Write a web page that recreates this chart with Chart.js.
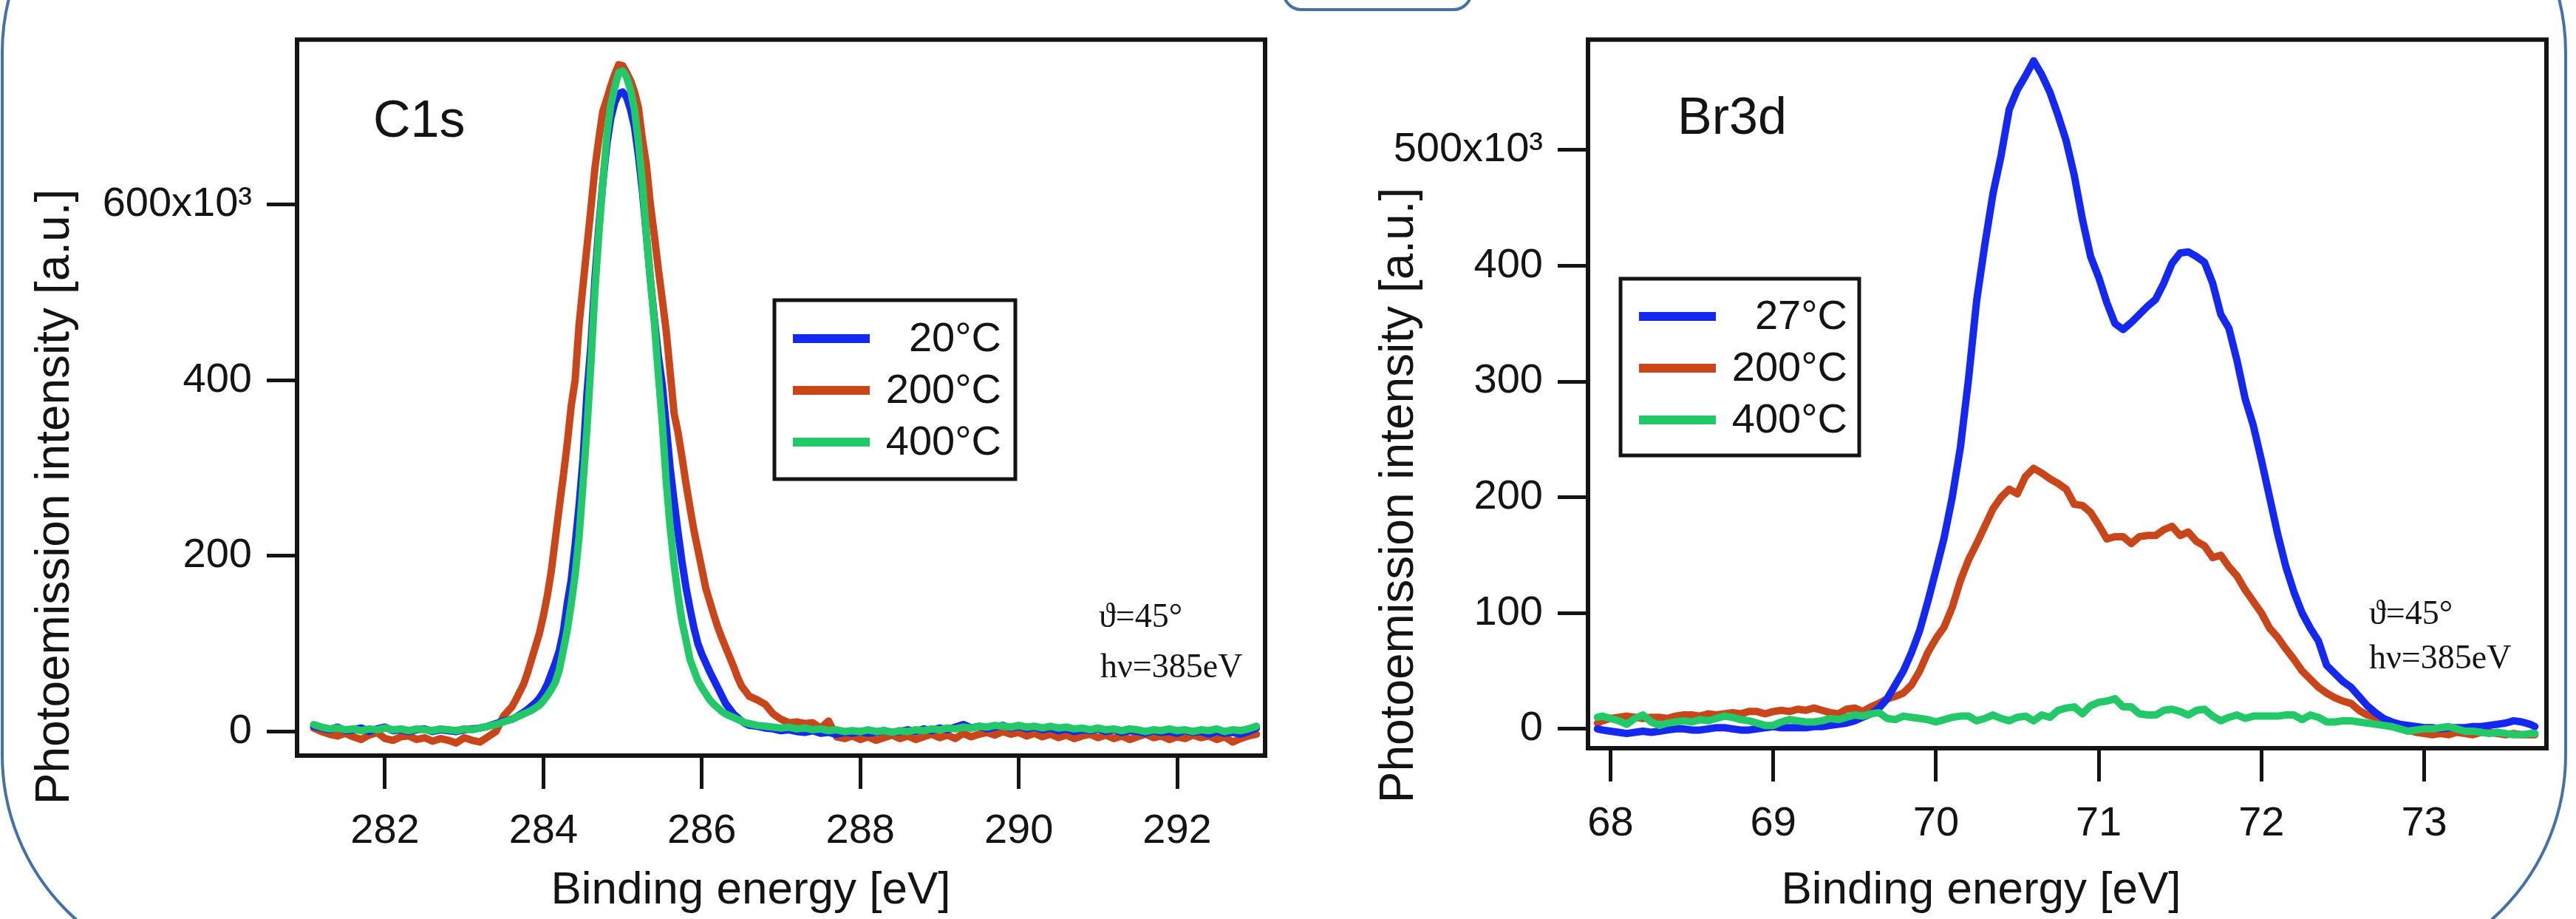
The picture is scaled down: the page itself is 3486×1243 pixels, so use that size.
<!DOCTYPE html>
<html>
<head>
<meta charset="utf-8">
<script src="https://cdn.jsdelivr.net/npm/chart.js@4.4.1/dist/chart.umd.min.js"></script>
<style>
  html, body { margin: 0; padding: 0; background: #fff; width: 3486px; height: 1243px; overflow: hidden; position: relative; }
  canvas { position: absolute; top: 0; }
  #c1sChart { left: 0; }
  #br3dChart { left: 1745px; }
  .slide { position: absolute; left: 1px; top: -229px; width: 3473px; height: 1550px; box-sizing: border-box;
           border: 4px solid #4472a4; border-radius: 300px; pointer-events: none; }
  .tab { position: absolute; left: 1735px; top: -40px; width: 258px; height: 55px; box-sizing: border-box;
         border: 4px solid #4472a4; border-radius: 26px; pointer-events: none; }
</style>
</head>
<body>
<canvas id="c1sChart" width="1745" height="1243"></canvas>
<canvas id="br3dChart" width="1741" height="1243"></canvas>
<div class="slide"></div>
<div class="tab"></div>
<script>
// ---- C1s panel (values in 10^3 counts) ----
const c1sEnergy = [
  281.1, 281.2, 281.3, 281.4, 281.5, 281.6, 281.7, 281.8, 281.9, 282.0, 282.1, 282.2, 282.3,
  282.4, 282.5, 282.6, 282.7, 282.8, 282.9, 283.0, 283.1, 283.2, 283.3, 283.4, 283.5,
  283.6, 283.65, 283.7, 283.75, 283.8, 283.85, 283.9, 283.95, 284.0, 284.05,
  284.1, 284.15, 284.2, 284.25, 284.3, 284.35, 284.4, 284.45, 284.5, 284.55,
  284.6, 284.65, 284.7, 284.75, 284.8, 284.85, 284.9, 284.95, 285.0, 285.05,
  285.1, 285.15, 285.2, 285.25, 285.3, 285.35, 285.4, 285.45, 285.5, 285.55,
  285.6, 285.65, 285.7, 285.75, 285.8, 285.85, 285.9, 285.95, 286.0, 286.05,
  286.1, 286.15, 286.2, 286.25, 286.3, 286.35, 286.4, 286.45, 286.5, 286.55, 286.6,
  286.7, 286.8, 286.9, 287.0, 287.1, 287.2, 287.3, 287.4, 287.5, 287.6,
  287.7, 287.8, 287.9, 288.0, 288.1, 288.2, 288.3, 288.4, 288.5, 288.6,
  288.7, 288.8, 288.9, 289.0, 289.1, 289.2, 289.3, 289.4, 289.5, 289.6,
  289.7, 289.8, 289.9, 290.0, 290.1, 290.2, 290.3, 290.4, 290.5, 290.6,
  290.7, 290.8, 290.9, 291.0, 291.1, 291.2, 291.3, 291.4, 291.5, 291.6,
  291.7, 291.8, 291.9, 292.0, 292.1, 292.2, 292.3, 292.4, 292.5, 292.6,
  292.7, 292.8, 292.9, 293.0
];
const c1s20C = [
  6, 4, 2, 5, 1, 2, 4, 0, 3, 5, 1, 2, 0, 2, 3, 0, 2, 1, 0, 2, 3, 4, 6, 9, 12,
  14, 16, 19, 22, 25, 29, 33, 38, 45, 54, 66, 78, 92, 113, 145, 172, 212, 257, 310, 385,
  440, 515, 575, 625, 668, 698, 716, 726, 728, 722, 708, 688, 655, 615, 565, 515, 470, 428, 395, 348,
  300, 262, 226, 193, 164, 140, 118, 100, 88, 78, 68, 59, 50, 41, 32, 26, 20, 16, 12, 9, 7,
  6, 4, 3, 1, 2, 0, -1, 1, -2, -1, -3, -1, -2, 0, -2, -1, 1, -1, 0, 2,
  0, 3, 1, 4, 2, 5, 8, 4, 6, 3, 5, 7, 4, 6, 3, 5, 2, 4, 1, 3,
  0, 2, 1, 3, 0, 2, -1, 1, 0, -2, 1, -1, 0, -2, 1, -1, 0, -3, 0, -2,
  -1, -3, 0, 4
];
const c1s200C = [
  4, 0, -3, -5, -2, -6, -9, -4, -1, -8, -10, -6, -5, -9, -7, -11, -8, -10, -13, -7, -10, -12, -6, 0, 18,
  28, 36, 45, 54, 67, 82, 97, 112, 132, 155, 183, 219, 255, 290, 327, 370, 400, 463, 508, 552,
  596, 641, 675, 706, 720, 735, 748, 759, 758, 750, 741, 728, 710, 674, 645, 600, 565, 527, 492, 456,
  409, 362, 340, 312, 282, 255, 229, 207, 185, 163, 148, 133, 119, 107, 96, 85, 74, 62, 52, 46, 40,
  36, 31, 20, 14, 10, 11, 9, 10, 4, 12, -6, -8, -5, -9, -6, -10, -7, -4, -8, -5,
  -9, -6, -3, -7, -4, -8, -2, -6, -3, -1, -4, 0, -3, -1, -5, -2, -6, -3, -7, -4,
  -8, -5, -3, -7, -4, -8, -5, -9, -6, -3, -7, -5, -9, -6, -8, -4, -7, -5, -9, -6,
  -12, -8, -5, -3
];
const c1s400C = [
  8, 5, 3, 4, 2, 3, 1, 3, 2, 4, 2, 3, 1, 3, 2, 1, 3, 2, 1, 3, 2, 4, 6, 8, 11,
  14, 16, 18, 20, 22, 24, 27, 30, 35, 41, 48, 56, 70, 92, 115, 145, 178, 222, 282, 345,
  420, 502, 567, 625, 678, 713, 733, 750, 752, 745, 730, 708, 670, 624, 565, 515, 466, 407, 352, 285,
  232, 190, 155, 125, 104, 82, 70, 58, 50, 43, 36, 31, 27, 23, 20, 18, 16, 14, 12, 10, 9,
  7, 6, 5, 4, 5, 3, 4, 2, 3, 1, 2, 0, 1, 0, 2, 0, 1, -1, 1, 0,
  2, 1, 3, 2, 4, 3, 5, 4, 6, 5, 7, 6, 5, 7, 5, 6, 4, 6, 4, 5,
  3, 4, 2, 4, 2, 3, 1, 3, 2, 0, 2, 1, 3, 1, 2, 0, 2, 1, 3, 0,
  2, 1, 3, 6
];
const c1sXTicks = [282, 284, 286, 288, 290, 292];
const c1sYTicks = [0, 200, 400, 600];
const c1sYLabels = ['0', '200', '400', '600x10\u00B3'];
const c1sLegend = ['20°C', '200°C', '400°C'];

// ---- Br3d panel ----
const br3dEnergy = [
  67.92, 67.95,
  68.00, 68.05, 68.10, 68.15, 68.20, 68.25, 68.30, 68.35, 68.40, 68.45,
  68.50, 68.55, 68.60, 68.65, 68.70, 68.75, 68.80, 68.85, 68.90, 68.95,
  69.00, 69.05, 69.10, 69.15, 69.20, 69.25, 69.30, 69.35, 69.40, 69.45,
  69.50, 69.55, 69.60, 69.65, 69.70, 69.75, 69.80, 69.85, 69.90, 69.95,
  70.00, 70.05, 70.10, 70.15, 70.20, 70.25, 70.30, 70.35, 70.40, 70.45,
  70.50, 70.55, 70.60, 70.65, 70.70, 70.75, 70.80, 70.85, 70.90, 70.95,
  71.00, 71.05, 71.10, 71.15, 71.20, 71.25, 71.30, 71.35, 71.40, 71.45,
  71.50, 71.55, 71.60, 71.65, 71.70, 71.75, 71.80, 71.85, 71.90, 71.95,
  72.00, 72.05, 72.10, 72.15, 72.20, 72.25, 72.30, 72.35, 72.40, 72.45,
  72.50, 72.55, 72.60, 72.65, 72.70, 72.75, 72.80, 72.85, 72.90, 72.95,
  73.00, 73.05, 73.10, 73.15, 73.20, 73.25, 73.30, 73.35, 73.40, 73.45,
  73.50, 73.55, 73.60, 73.65, 73.68
];
const br3d27C = [
  0, -1,
  -2, -3, -4, -3, -2, -3, -2, -1, 0, 0,
  -1, -1, 0, 1, 1, 0, -1, -1, 0, 1,
  2, 1, 1, 1, 1, 2, 2, 3, 4, 5,
  7, 10, 13, 18, 26, 38, 50, 66, 85, 110,
  137, 165, 200, 243, 302, 370, 418, 462, 495, 535,
  552, 564, 577, 565, 550, 530, 508, 478, 440, 408,
  390, 368, 350, 345, 351, 358, 365, 371, 385, 402,
  411, 412, 408, 403, 385, 358, 346, 318, 285, 262,
  232, 200, 168, 140, 118, 100, 87, 76, 55, 48,
  41, 36, 28, 20, 14, 9, 6, 4, 3, 2,
  1, 1, 0, 1, 1, 1, 2, 2, 3, 4,
  5, 7, 6, 4, 2
];
const br3d200C = [
  5, 7,
  9, 10, 11, 10, 9, 10, 10, 9, 11, 12,
  12, 11, 13, 12, 13, 14, 13, 15, 15, 13,
  15, 16, 15, 17, 16, 18, 16, 14, 13, 17,
  18, 15, 19, 22, 26, 28, 31, 38, 50, 66,
  78, 88, 105, 128, 146, 160, 175, 190, 200, 207,
  203, 218, 225, 221, 216, 212, 207, 194, 193, 187,
  176, 164, 166, 166, 160, 166, 167, 167, 172, 175,
  167, 170, 162, 158, 148, 150, 140, 132, 120, 110,
  100, 87, 79, 69, 60, 50, 43, 36, 31, 27,
  24, 22, 16, 12, 10, 8, 5, 2, -1, -3,
  -4, -5, -4, -5, -3, -4, -5, -3, -3, -4,
  -5, -4, -5, -5, -5
];
const br3d400C = [
  10, 11,
  9, 7, 4, 9, 12, 6, 3, 5, 6, 7,
  6, 8, 7, 9, 11, 10, 8, 7, 5, 3,
  3, 6, 8, 7, 6, 6, 7, 9, 8, 10,
  12, 11, 13, 14, 9, 8, 11, 10, 9, 8,
  6, 8, 10, 11, 11, 7, 9, 12, 9, 7,
  10, 11, 7, 12, 10, 16, 18, 19, 13, 20,
  23, 24, 26, 19, 19, 13, 12, 12, 16, 17,
  15, 12, 16, 17, 11, 7, 10, 12, 9, 11,
  11, 11, 11, 12, 12, 8, 12, 10, 6, 6,
  7, 7, 6, 5, 4, 3, 2, 0, -2, -1,
  0, 0, 1, 2, 0, -2, -2, -3, -4, -3,
  -4, -5, -5, -4, -4
];
const br3dXTicks = [68, 69, 70, 71, 72, 73];
const br3dYTicks = [0, 100, 200, 300, 400, 500];
const br3dYLabels = ['0', '100', '200', '300', '400', '500x10\u00B3'];
const br3dLegend = ['27°C', '200°C', '400°C'];

const BLUE = '#1428f0', ORANGE = '#c8461a', GREEN = '#23c869';
const INK = '#141414';
const SANS = '"Liberation Sans", Arial, sans-serif';
const SERIF = '"Liberation Serif", "Times New Roman", serif';

function points(energy, values) {
  return energy.map((e, i) => ({ x: e, y: values[i] }));
}

function series(label, color, energy, values, order) {
  return {
    label: label, data: points(energy, values), borderColor: color, backgroundColor: color,
    borderWidth: 10, pointRadius: 0, tension: 0, fill: false, order: order,
    borderJoinStyle: 'round', borderCapStyle: 'round'
  };
}

// full box round the plot area
const framePlugin = {
  id: 'frame',
  afterDatasetsDraw(chart) {
    const { ctx, chartArea: a } = chart;
    ctx.save();
    ctx.strokeStyle = INK;
    ctx.lineWidth = 6;
    ctx.strokeRect(a.left, a.top, a.right - a.left, a.bottom - a.top);
    ctx.restore();
  }
};

// boxed legend, lines on the left, labels right aligned
const boxLegend = {
  id: 'boxLegend',
  afterDatasetsDraw(chart, args, o) {
    const ctx = chart.ctx;
    ctx.save();
    ctx.fillStyle = '#fff';
    ctx.fillRect(o.x, o.y, o.w, o.h);
    ctx.strokeStyle = INK;
    ctx.lineWidth = 5;
    ctx.strokeRect(o.x, o.y, o.w, o.h);
    ctx.font = '56px ' + SANS;
    ctx.textAlign = 'right';
    ctx.textBaseline = 'middle';
    chart.data.datasets.forEach((ds, i) => {
      const y = o.y + o.row0 + i * o.rowGap;
      ctx.strokeStyle = ds.borderColor;
      ctx.lineWidth = 12;
      ctx.beginPath();
      ctx.moveTo(o.x + o.line0, y);
      ctx.lineTo(o.x + o.line1, y);
      ctx.stroke();
      ctx.fillStyle = INK;
      ctx.fillText(ds.label, o.x + o.textRight, y + 2);
    });
    ctx.restore();
  }
};

// free text: panel names, conditions, axis titles
const notesPlugin = {
  id: 'notes',
  afterDraw(chart, args, o) {
    const ctx = chart.ctx;
    o.items.forEach(it => {
      ctx.save();
      ctx.fillStyle = INK;
      ctx.font = it.font;
      ctx.textAlign = it.align || 'left';
      ctx.textBaseline = 'middle';
      ctx.translate(it.x, it.y);
      if (it.rotate) ctx.rotate(it.rotate * Math.PI / 180);
      ctx.fillText(it.text, 0, 0);
      ctx.restore();
    });
  }
};

function axisStyle(tickLen) {
  return {
    grid: { display: true, drawOnChartArea: false, drawTicks: true, tickLength: tickLen,
            tickWidth: 5, tickColor: INK, color: INK },
    border: { display: false }
  };
}

function makePanel(canvasId, cfg) {
  const x = axisStyle(45), y = axisStyle(41);
  new Chart(document.getElementById(canvasId), {
    type: 'line',
    data: { datasets: cfg.datasets },
    options: {
      responsive: false,
      animation: false,
      devicePixelRatio: 1,
      layout: { padding: { top: cfg.padTop, right: cfg.padRight, left: 0, bottom: 0 } },
      plugins: {
        legend: { display: false },
        tooltip: { enabled: false },
        boxLegend: cfg.legend,
        notes: { items: cfg.notes }
      },
      scales: {
        x: Object.assign(x, {
          type: 'linear', min: cfg.xMin, max: cfg.xMax,
          afterBuildTicks: s => { s.ticks = cfg.xTicks.map(v => ({ value: v })); },
          afterFit: s => { s.height = cfg.xHeight; },
          ticks: { color: INK, font: { family: SANS, size: 56 }, padding: 24, maxRotation: 0,
                   callback: v => String(v) }
        }),
        y: Object.assign(y, {
          type: 'linear', min: cfg.yMin, max: cfg.yMax,
          afterBuildTicks: s => { s.ticks = cfg.yTicks.map(v => ({ value: v })); },
          afterFit: s => { s.width = cfg.yWidth; },
          ticks: { color: INK, font: { family: SANS, size: 56 }, padding: 20,
                   callback: (v, i) => cfg.yLabels[i] }
        })
      }
    },
    plugins: [framePlugin, boxLegend, notesPlugin]
  });
}

makePanel('c1sChart', {
  datasets: [
    series(c1sLegend[0], BLUE, c1sEnergy, c1s20C, 1),
    series(c1sLegend[1], ORANGE, c1sEnergy, c1s200C, 2),
    series(c1sLegend[2], GREEN, c1sEnergy, c1s400C, 0)
  ],
  padTop: 40, padRight: 33, xHeight: 221, yWidth: 402,
  xMin: 280.89, xMax: 293.11, yMin: -27.4, yMax: 787.6,
  xTicks: c1sXTicks, yTicks: c1sYTicks, yLabels: c1sYLabels,
  legend: { x: 1048, y: 406, w: 326, h: 242, row0: 52, rowGap: 70, line0: 25, line1: 129, textRight: 307 },
  notes: [
    { text: 'C1s', x: 505, y: 166, font: '70px ' + SANS },
    { text: 'ϑ=45°', x: 1487, y: 836, font: '46px ' + SERIF },
    { text: 'hν=385eV', x: 1489, y: 904, font: '46px ' + SERIF },
    { text: 'Photoemission intensity [a.u.]', x: 75, y: 672, rotate: -90, align: 'center', font: '64px ' + SANS },
    { text: 'Binding energy [eV]', x: 1016, y: 1205, align: 'center', font: '62px ' + SANS }
  ]
});

makePanel('br3dChart', {
  datasets: [
    series(br3dLegend[0], BLUE, br3dEnergy, br3d27C, 1),
    series(br3dLegend[1], ORANGE, br3dEnergy, br3d200C, 2),
    series(br3dLegend[2], GREEN, br3dEnergy, br3d400C, 0)
  ],
  padTop: 37, padRight: 40, xHeight: 231, yWidth: 404,
  xMin: 67.862, xMax: 73.751, yMin: -16.7, yMax: 595.3,
  xTicks: br3dXTicks, yTicks: br3dYTicks, yLabels: br3dYLabels,
  legend: { x: 448, y: 377, w: 323, h: 239, row0: 51, rowGap: 70, line0: 25, line1: 129, textRight: 307 },
  notes: [
    { text: 'Br3d', x: 525, y: 162, font: '70px ' + SANS },
    { text: 'ϑ=45°', x: 1461, y: 832, font: '46px ' + SERIF },
    { text: 'hν=385eV', x: 1461, y: 892, font: '46px ' + SERIF },
    { text: 'Photoemission intensity [a.u.]', x: 149, y: 670, rotate: -90, align: 'center', font: '64px ' + SANS },
    { text: 'Binding energy [eV]', x: 936, y: 1205, align: 'center', font: '62px ' + SANS }
  ]
});
</script>
</body>
</html>
